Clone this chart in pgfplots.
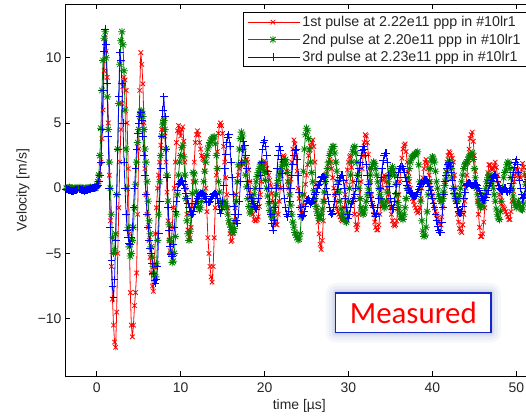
\documentclass[border=0pt]{standalone}
\usepackage{fontspec}
\setmainfont{Liberation Sans}
\newfontfamily\calibri{Carlito}
\usepackage{pgfplots}
\usepackage{pgfplotstable}
\pgfplotsset{compat=1.18}
\usetikzlibrary{calc}
\definecolor{mred}{RGB}{255,0,0}
\definecolor{mgreen}{RGB}{0,128,0}
\definecolor{mblue}{RGB}{0,0,255}
\definecolor{boxblue}{RGB}{20,40,200}
\definecolor{glow}{RGB}{170,180,215}
\pgfdeclareplotmark{ast8}{%
  \pgfpathmoveto{\pgfqpoint{-\pgfplotmarksize}{0pt}}\pgfpathlineto{\pgfqpoint{\pgfplotmarksize}{0pt}}%
  \pgfpathmoveto{\pgfqpoint{0pt}{-\pgfplotmarksize}}\pgfpathlineto{\pgfqpoint{0pt}{\pgfplotmarksize}}%
  \pgfpathmoveto{\pgfqpoint{-.707\pgfplotmarksize}{-.707\pgfplotmarksize}}\pgfpathlineto{\pgfqpoint{.707\pgfplotmarksize}{.707\pgfplotmarksize}}%
  \pgfpathmoveto{\pgfqpoint{-.707\pgfplotmarksize}{.707\pgfplotmarksize}}\pgfpathlineto{\pgfqpoint{.707\pgfplotmarksize}{-.707\pgfplotmarksize}}%
  \pgfusepathqstroke}
\pgfplotstableread{
t r g b
-3.75 0 0 -0.05
-3.625 0 0 -0.08
-3.5 0.05 0 -0.1
-3.375 0 0 -0.12
-3.25 0 0.05 -0.15
-3.125 0 0 -0.18
-3.0 -0.05 0 -0.2
-2.875 0 0 -0.22
-2.75 0 -0.05 -0.2
-2.625 0 0 -0.18
-2.5 0 0 -0.15
-2.375 0 0 -0.12
-2.25 0.05 0 -0.1
-2.125 0 0 -0.08
-2.0 0 0.05 -0.1
-1.875 0 0 -0.12
-1.75 -0.05 0 -0.15
-1.625 0 0 -0.18
-1.5 0 -0.05 -0.2
-1.375 0 0 -0.18
-1.25 0 0 -0.15
-1.125 0 0 -0.12
-1.0 0.05 0 -0.1
-0.875 0 0 -0.08
-0.75 0 0.05 -0.05
-0.625 0 0 -0.03
-0.5 0 0 0
-0.375 0 0 0
-0.25 0 0 0
-0.125 0 0 0.05
0 0.1 0.2 0.1
0.125 0.2 0.5 0.2
0.25 0.5 1 0.5
0.375 1.0 2.5 1.0
0.5 2 4.6 2
0.625 3.8 7.5 4.5
0.75 6 9.8 7.5
0.875 9 11.5 10.5
1.0 11.5 12.0 12.2
1.125 10.5 10 11
1.25 8.5 7 8
1.375 5 4.5 4
1.5 1 2 0
1.625 -2.5 0 -3
1.75 -6 -2 -5.5
1.875 -8.5 -3.8 -7.5
2.0 -10.5 -5.0 -8.4
2.125 -11.8 -4.8 -7
2.25 -12.2 -3.5 -4
2.375 -9.5 -0.5 -0.5
2.5 -5 3 3
2.625 -1.5 6.5 7
2.75 2 9.5 10.4
2.875 4.5 11.3 9.8
3.0 6.5 12.0 8
3.125 7.8 11 5
3.25 8.5 9 2
3.375 8.3 6 0
3.5 7.5 3 -2
3.625 5 0 -3.2
3.75 1.5 -3 -3.8
3.875 -3.5 -4.5 -4.2
4.0 -8 -5.2 -4.3
4.125 -10.5 -5 -3.8
4.25 -11.4 -4 -3
4.375 -10.5 -3 -1.5
4.5 -9 -1.5 0
4.625 -8 0.3 1.5
4.75 -6.5 2 3
4.875 -2 3.5 4.2
5.0 3 4.5 5
5.125 7.5 5.5 5.5
5.25 10.4 5.9 5.8
5.375 9.5 5.9 5.2
5.5 8 5.5 4
5.625 5 4.5 2.5
5.75 1.5 3 1
5.875 -0.5 2 -0.5
6.0 -2 0.5 -2
6.125 -3 -1 -3
6.25 -4 -2.5 -4
6.375 -5.3 -3.5 -4.6
6.5 -6.5 -4.5 -5
6.625 -7.5 -5.3 -5.8
6.75 -7.9 -6 -6.5
6.875 -6 -6.6 -7.1
7.0 -3.5 -6.8 -7.3
7.125 -1.5 -5.8 -7
7.25 0 -4 -6
7.375 1 -2 -3.5
7.5 2 0.5 -1
7.625 3.3 2.5 1.5
7.75 4.5 4 4
7.875 5.1 4.9 6
8.0 5.2 5.2 7.0
8.125 4 4.5 5.5
8.25 2 3 3
8.375 -0.3 1 0.8
8.5 -2.5 -1 -1.5
8.625 -4 -2.8 -3.2
8.75 -4.8 -4 -4.5
8.875 -4.2 -5 -5.1
9.0 -3 -5.7 -5.2
9.125 -1.5 -5.6 -4.3
9.25 0 -5 -3
9.375 2 -3.7 -1.8
9.5 3.5 -2 -1
9.625 4.4 -0.5 -0.2
9.75 4.8 1 0.3
9.875 4.3 2 0.4
10.0 4.0 2.5 0.5
10.125 4.5 3.1 0.6
10.25 4.7 3.3 0.5
10.375 3.6 2.4 0.3
10.5 2 1 0
10.625 0 -0.8 -0.4
10.75 -2 -2.5 -0.8
10.875 -3.2 -3.5 -1.2
11.0 -4.0 -4.0 -1.5
11.125 -3.8 -3.3 -1.8
11.25 -3.0 -2.0 -2.0
11.375 -1.3 -0.4 -2.0
11.5 0.5 1.2 -1.8
11.625 2.0 1.1 -1.5
11.75 3.5 0.5 -1.2
11.875 4.1 -0.3 -1.0
12.0 4.4 -1.0 -0.8
12.125 4.1 -1.4 -0.6
12.25 3.5 -1.65 -0.5
12.375 3.0 -1.5 -0.4
12.5 2.5 -1.0 -0.4
12.625 2.3 -0.3 -0.4
12.75 2.2 0.5 -0.5
12.875 1.3 1.3 -0.6
13.0 0 2.0 -0.8
13.125 -1.8 2.5 -1.0
13.25 -3.8 3.0 -1.1
13.375 -5.0 3.3 -1.1
13.5 -6.0 3.5 -1.0
13.625 -6.8 3.7 -0.8
13.75 -7.2 3.8 -0.6
13.875 -6.0 3.9 -0.5
14.0 -3.8 3.95 -0.4
14.125 -1.5 3.4 -0.4
14.25 1 2.5 -0.5
14.375 2.8 1.5 -0.8
14.5 4.2 0.5 -1.2
14.625 4.8 -0.3 -1.6
14.75 5.0 -1.0 -1.9
14.875 4.8 -1.3 -1.6
15.0 4.2 -1.5 -1.0
15.125 3.2 -1.3 0.2
15.25 2 -1.0 1.5
15.375 0.8 -1.2 2.6
15.5 -0.5 -1.5 3.5
15.625 -1.5 -2.0 3.9
15.75 -2.5 -2.5 4.1
15.875 -3.5 -2.8 3.2
16.0 -4.1 -3.0 2.0
16.125 -4.0 -3.3 0.8
16.25 -3.5 -3.4 -0.5
16.375 -2.6 -3.1 -1.4
16.5 -1.5 -2.5 -2.0
16.625 -0.5 -1.0 -2.5
16.75 0.5 0.5 -2.7
16.875 1.0 1.8 -2.0
17.0 1.5 3.0 -1.0
17.125 1.8 3.8 0.5
17.25 2.0 4.3 2.0
17.375 1.9 4.0 3.0
17.5 1.8 3.0 3.6
17.625 2.0 2.0 3.3
17.75 2.2 1.0 2.5
17.875 2.2 0.1 1.5
18.0 2.0 -0.8 0.5
18.125 1.4 -1.4 0
18.25 0.5 -1.9 -0.5
18.375 -0.5 -1.8 -0.8
18.5 -1.5 -1.5 -1.0
18.625 -2.0 -1.0 -1.2
18.75 -2.4 -0.5 -1.4
18.875 -2.5 0 -1.5
19.0 -2.5 0.5 -1.6
19.125 -2.4 0.9 -1.3
19.25 -2.2 1.2 -0.8
19.375 -1.4 1.5 0
19.5 -0.5 1.8 1.0
19.625 0.5 1.9 2.0
19.75 1.5 1.9 3.0
19.875 1.9 1.6 3.5
20.0 2.1 1.2 3.7
20.125 1.9 0.6 3.2
20.25 1.5 0 2.5
20.375 1.2 -0.6 1.3
20.5 1.0 -1.2 0
20.625 0.6 -1.7 -1.0
20.75 0.2 -2.0 -2.0
20.875 -0.4 -2.2 -2.7
21.0 -1.0 -2.2 -3.2
21.125 -1.8 -1.8 -2.5
21.25 -2.5 -1.2 -1.5
21.375 -2.8 -0.5 0
21.5 -2.8 0.2 1.5
21.625 -2.0 0.6 2.5
21.75 -1.0 1.0 3.2
21.875 0 1.3 2.9
22.0 1.0 1.5 2.2
22.125 1.9 1.8 1.1
22.25 2.5 2.0 0
22.375 2.4 2.1 -0.8
22.5 2.0 2.2 -1.5
22.625 1.3 1.8 -2.0
22.75 0.5 1.2 -2.2
22.875 0 0.4 -1.8
23.0 -0.5 -0.5 -1.0
23.125 0.7 -1.3 0
23.25 2.0 -2.0 1.0
23.375 3.0 -2.6 1.8
23.5 3.7 -3.0 2.5
23.625 3.4 -3.4 2.9
23.75 2.5 -3.6 3.0
23.875 1.3 -3.8 2.2
24.0 0 -3.95 1.0
24.125 -0.8 -3.9 -0.3
24.25 -1.5 -3.5 -1.5
24.375 -1.9 -2.2 -2.0
24.5 -2 -0.5 -2.2
24.625 -1.3 1.3 -2.1
24.75 -0.5 3.0 -1.8
24.875 0.3 4.1 -1.4
25.0 1.0 4.6 -1.0
25.125 1.8 4.4 -0.9
25.25 2.5 3.8 -0.8
25.375 2.9 3.0 -1.0
25.5 3.2 2.0 -1.2
25.625 3.5 1.2 -1.1
25.75 3.7 0.5 -1.0
25.875 3.2 -0.2 -0.8
26.0 2.0 -0.8 -0.5
26.125 0.3 -1.4 -0.3
26.25 -1.5 -1.8 0
26.375 -2.6 -2.1 0.2
26.5 -3.5 -2.3 0.3
26.625 -4.3 -2.3 0.5
26.75 -4.7 -2.0 0.8
26.875 -4.0 -1.6 0.9
27.0 -2.5 -1.0 0.9
27.125 -1.0 -0.3 0.8
27.25 0.5 0.5 0.5
27.375 1.1 1.0 0
27.5 1.5 1.5 -0.5
27.625 1.9 2.0 -1.0
27.75 2.2 2.5 -1.5
27.875 2.0 2.8 -1.8
28.0 1.5 3.0 -2.0
28.125 0.8 3.2 -1.9
28.25 0 3.2 -1.5
28.375 -0.5 2.7 -1.0
28.5 -1.0 2.0 -0.5
28.625 -1.5 1.3 -0.1
28.75 -1.8 0.5 0.3
28.875 -2.0 -0.3 0.6
29.0 -2.2 -1.0 0.8
29.125 -2.4 -1.6 1.0
29.25 -2.5 -2.0 1.0
29.375 -2.1 -2.3 0.6
29.5 -1.5 -2.4 0
29.625 -0.5 -2.5 -0.8
29.75 0.5 -2.6 -1.5
29.875 1.4 -1.9 -2.0
30.0 2.0 -1.0 -2.3
30.125 2.4 0 -2.0
30.25 2.5 1.0 -1.5
30.375 1.6 2.0 -1.2
30.5 0.5 2.8 -1.0
30.625 -0.8 3.1 -0.8
30.75 -2.0 3.2 -0.5
30.875 -2.8 2.7 0
31.0 -3.2 2.0 0.5
31.125 -2.8 1.0 1.0
31.25 -2.0 0 1.5
31.375 -0.8 -0.8 2.0
31.5 0.5 -1.5 2.5
31.625 1.5 -1.8 2.9
31.75 2.5 -2.0 3.2
31.875 3.5 -1.9 3.0
32.0 4.1 -1.5 2.5
32.125 4.0 -1.0 1.8
32.25 3.5 -0.5 1.0
32.375 2.6 0 0.3
32.5 1.5 0.5 -0.3
32.625 0.5 1.0 -0.7
32.75 -0.5 1.5 -1.0
32.875 -1.3 1.8 -1.3
33.0 -2.0 2.0 -1.5
33.125 -2.6 1.9 -1.9
33.25 -3.0 1.5 -2.2
33.375 -3.2 1.0 -2.0
33.5 -3.2 0.5 -1.5
33.625 -2.8 0 -0.8
33.75 -2.0 -0.5 0
33.875 -1.0 -0.8 0.8
34.0 0 -1.0 1.5
34.125 0.6 -1.3 2.1
34.25 1.0 -1.5 2.5
34.375 0.9 -1.4 2.7
34.5 0.5 -1.0 2.7
34.625 0 -0.3 2.0
34.75 -0.5 0.5 1.0
34.875 -1.0 0.9 0.1
35.0 -1.5 1.2 -0.8
35.125 -2.0 1.5 -1.3
35.25 -2.5 1.65 -1.65
35.375 -2.8 1.4 -1.5
35.5 -2.9 1.0 -1.0
35.625 -2.8 0.3 -0.4
35.75 -2.5 -0.5 0.3
35.875 -1.6 -1.1 0.8
36.0 -0.5 -1.5 1.2
36.125 0.5 -1.9 1.5
36.25 1.5 -2.2 1.65
36.375 2.3 -2.3 1.65
36.5 3.0 -2.4 1.5
36.625 3.3 -2.0 1.2
36.75 3.4 -1.5 0.8
36.875 2.8 -0.8 0.5
37.0 2.0 0 0.2
37.125 1.2 0.8 0
37.25 0.5 1.5 -0.2
37.375 0 2.0 -0.3
37.5 -0.5 2.3 -0.4
37.625 -0.8 2.4 -0.5
37.75 -1.0 2.5 -0.6
37.875 -1.3 2.6 -0.6
38.0 -1.5 2.6 -0.6
38.125 -1.7 2.7 -0.5
38.25 -1.9 2.8 -0.3
38.375 -1.8 1.8 -0.1
38.5 -1.5 0.5 0.1
38.625 -0.8 -1.0 0.3
38.75 0 -2.5 0.4
38.875 0.8 -3.3 0.5
39.0 1.5 -3.7 0.6
39.125 2.0 -3.6 0.6
39.25 2.2 -3.0 0.6
39.375 1.9 -1.8 0.5
39.5 1.5 -0.5 0.4
39.625 1.0 0.5 0.1
39.75 0.5 1.5 -0.2
39.875 0 2.1 -0.5
40.0 -0.5 2.4 -0.8
40.125 -1.0 2.3 -1.2
40.25 -1.5 2.0 -1.5
40.375 -1.8 1.3 -2.0
40.5 -2.0 0.5 -2.5
40.625 -2.3 0 -2.9
40.75 -2.6 -0.5 -3.2
40.875 -2.7 -0.8 -3.4
41.0 -2.8 -1.0 -3.4
41.125 -2.2 -1.0 -2.6
41.25 -1.5 -0.8 -1.5
41.375 -0.5 -0.3 -0.5
41.5 0.5 0.2 0.5
41.625 1.3 0.7 1.0
41.75 2.0 1.2 1.5
41.875 2.5 1.7 1.8
42.0 2.8 2.1 2.0
42.125 2.7 1.9 1.7
42.25 2.5 1.5 1.2
42.375 2.3 0.8 0.6
42.5 2.0 0 0
42.625 1.0 -0.5 -0.4
42.75 0 -0.8 -0.8
42.875 -1.0 -1.0 -1.2
43.0 -2.0 -1.0 -1.5
43.125 -2.6 -0.8 -1.8
43.25 -3.1 -0.5 -1.9
43.375 -3.3 0 -1.9
43.5 -3.4 0.5 -1.8
43.625 -2.8 1.0 -1.4
43.75 -2.0 1.5 -0.8
43.875 -1.0 1.8 -0.3
44.0 0 1.9 0.2
44.125 1.0 2.0 0.3
44.25 2.0 2.2 0.4
44.375 3.0 2.4 0.4
44.5 3.8 2.5 0.3
44.625 4.1 2.6 0.2
44.75 4.3 2.7 0.2
44.875 3.6 2.2 0.2
45.0 2.5 1.5 0.3
45.125 1.3 0.8 0.3
45.25 0 0 0.3
45.375 -1.0 -0.5 0.2
45.5 -2.0 -1.0 0
45.625 -3.0 -1.3 -0.2
45.75 -3.7 -1.5 -0.4
45.875 -3.7 -1.4 -0.6
46.0 -3.5 -1.2 -0.8
46.125 -2.6 -0.9 -0.9
46.25 -1.5 -0.5 -0.9
46.375 -0.5 0 -0.7
46.5 0.5 0.5 -0.5
46.625 1.2 0.8 -0.2
46.75 1.8 1.0 0.2
46.875 1.8 1.0 0.4
47.0 1.5 0.8 0.6
47.125 1.4 0.4 0.8
47.25 1.5 0 0.9
47.375 1.7 -0.5 1.0
47.5 2.0 -1.0 1.0
47.625 1.6 -1.6 0.8
47.75 1.0 -2.0 0.5
47.875 0.3 -2.3 0.2
48.0 -0.5 -2.4 0
48.125 -0.9 -1.8 -0.1
48.25 -1.2 -1.0 -0.2
48.375 -1.4 0 -0.2
48.5 -1.5 0.8 -0.1
48.625 -1.6 1.2 0
48.75 -1.8 1.4 0
48.875 -2.0 1.8 -0.2
49.0 -2.2 2.0 -0.3
49.125 -2.4 1.9 -0.2
49.25 -2.4 1.5 0
49.375 -1.8 0.8 0.4
49.5 -1.0 0 0.8
49.625 -0.2 -0.6 1.2
49.75 0.5 -1.0 1.6
49.875 1.0 -1.3 2.0
50.0 1.5 -1.5 2.2
50.125 1.4 -1.3 1.8
50.25 1.0 -1.0 1.2
50.375 0.9 -1.2 0.6
50.5 0.8 -1.5 0
50.625 1.4 -1.6 -0.5
50.75 1.9 -1.65 -0.8
50.875 1.6 -1.2 -0.7
51.0 1.0 -0.5 -0.5
51.125 0.3 0.3 0
51.25 -0.5 1.0 0.5
51.375 -0.8 1.3 0.7
51.5 -1.0 1.5 0.8
51.625 -0.3 1.4 0.6
51.75 0.5 1.0 0.3
}\data
\begin{document}
\begin{tikzpicture}
\begin{axis}[
  name=ax,
  scale only axis,
  width=492.5bp, height=371.7bp,
  xmin=-3.7, xmax=55, ymin=-14.4, ymax=14.1,
  xtick={0,10,20,30,40,50},
  xticklabels={0,10,20,30,40,50},
  ytick={-10,-5,0,5,10},
  yticklabels={−10,−5,0,5,10},
  tick align=inside,
  major tick length=4.5bp,
  tick style={black, line width=0.6bp},
  axis line style={black, line width=0.9bp},
  tick label style={font=\fontsize{14}{16}\selectfont, text=black!85},
  xticklabel style={inner sep=0pt, yshift=-7bp},
  yticklabel style={inner sep=0pt, xshift=-4bp},
  xlabel={time [µs]},
  ylabel={Velocity [m/s]},
  label style={font=\fontsize{14}{16}\selectfont, text=black!85},
  xlabel style={at={(axis description cs:0.4743,-0.0807)}, anchor=center},
  ylabel style={at={(axis description cs:-0.0867,0.5)}, anchor=center},
  legend style={at={(axis description cs:0.360,0.980)}, anchor=north west,
    draw=black, line width=1.1bp, fill=white,
    font=\fontsize{14.3}{16}\selectfont, text=black!85,
    inner xsep=4bp, inner ysep=2bp, row sep=1.6bp,
    cells={anchor=west}},
  legend image code/.code={%
    \path (0bp,0bp) -- (52bp,0bp);
    \draw[mark repeat=2, mark phase=2, line width=0.8bp] plot coordinates {(5bp,0bp) (25bp,0bp) (45bp,0bp)};},
]
\addplot[mred, line width=0.8bp, mark=x, mark size=3.2bp, mark options={solid, line width=0.8bp}] table[x=t, y=r] {\data};
\addlegendentry{1st pulse at 2.22e11 ppp in \#10lr1}
\addplot[mgreen, line width=0.8bp, mark=ast8, mark size=3.8bp, mark options={solid, line width=0.8bp}] table[x=t, y=g] {\data};
\addlegendentry{2nd pulse at 2.20e11 ppp in \#10lr1}
\addplot[mblue, line width=0.8bp, mark=+, mark size=3.9bp, mark options={solid, line width=0.8bp}] table[x=t, y=b] {\data};
\addlegendentry{3rd pulse at 2.23e11 ppp in \#10lr1}
\end{axis}
\coordinate (mc) at ([xshift=347.6bp, yshift=63.2bp]ax.south west);
\foreach \g/\o in {10/0.10,7/0.14,4/0.2,2/0.3} {
  \fill[glow, opacity=\o, rounded corners=\g bp] ($(mc)+(-77.65bp-\g bp,-19.85bp-\g bp)$) rectangle ($(mc)+(77.65bp+\g bp,19.85bp+\g bp)$);
}
\node[draw=boxblue, line width=1.3bp, fill=white, minimum width=155.3bp, minimum height=39.7bp, inner sep=0pt, text=red, font=\calibri\fontsize{31}{31}\selectfont] at (mc) {Measured};
\pgfresetboundingbox
\path[use as bounding box] ([xshift=-65.7bp, yshift=-41bp]ax.south west) rectangle ([xshift=460.3bp, yshift=4.3bp]ax.north west);
\end{tikzpicture}
\end{document}
